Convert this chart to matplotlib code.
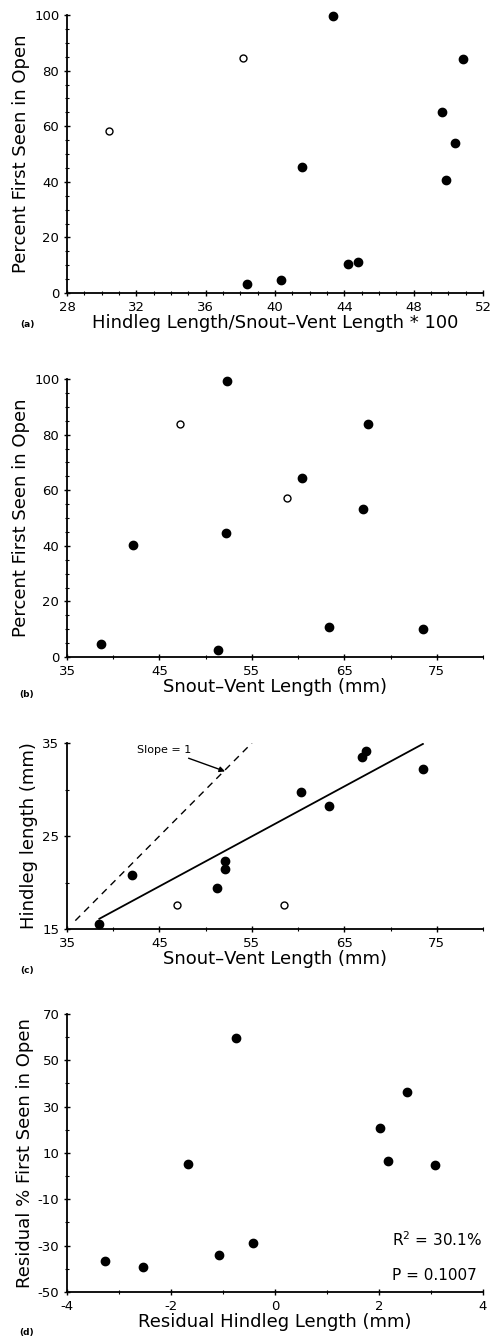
import numpy as np
import matplotlib.pyplot as plt
from matplotlib.ticker import MultipleLocator

# (a) relative hindleg length vs percent seen in open
a_open_x = [30.4, 38.15]
a_open_y = [58.3, 84.4]
a_fill_x = [43.37, 50.87, 49.66, 50.39, 49.89, 41.57, 44.2, 44.81, 38.38, 40.32]
a_fill_y = [99.5, 84.1, 65.1, 53.8, 40.5, 45.3, 10.5, 11.1, 3.1, 4.8]

# (b) SVL vs percent seen in open
b_open_x = [47.17, 58.77]
b_open_y = [83.9, 57.2]
b_fill_x = [52.36, 67.55, 60.46, 67.0, 52.22, 42.09, 38.69, 51.33, 63.36, 73.56]
b_fill_y = [99.4, 83.7, 64.5, 53.2, 44.7, 40.4, 4.7, 2.6, 10.8, 10.1]

# (c) SVL vs hindleg length
c_open_x = [46.89, 58.52]
c_open_y = [17.6, 17.6]
c_fill_x = [38.51, 41.98, 51.26, 52.04, 52.04, 60.31, 63.29, 66.9, 67.37, 73.49]
c_fill_y = [15.54, 20.77, 19.4, 21.4, 22.35, 29.7, 28.2, 33.5, 34.1, 32.2]
fit_x = [38.5, 73.5]
fit_y = [16.1, 34.9]
slope1_x = [35.9, 55.0]

# (d) residuals
d_x = [-0.75, -1.67, 2.53, 2.02, 2.18, 3.08, -3.26, -2.54, -1.07, -0.42]
d_y = [59.8, 5.3, 36.5, 20.8, 6.6, 4.8, -36.5, -39.2, -33.9, -29.0]

plt.rcParams['font.family'] = 'DejaVu Sans'
plt.rcParams['axes.unicode_minus'] = False

fig = plt.figure(figsize=(4.93, 13.4), dpi=100)
W = 493.0
H = 1340.0

def make_ax(top, bottom):
    ax = fig.add_axes([67 / W, 1 - bottom / H, 416 / W, (bottom - top) / H])
    ax.spines['top'].set_visible(False)
    ax.spines['right'].set_visible(False)
    for s in ['left', 'bottom']:
        ax.spines[s].set_linewidth(1.3)
    ax.tick_params(which='major', direction='inout', length=5, width=1, labelsize=9.5, pad=3)
    ax.tick_params(which='minor', direction='inout', length=3, width=0.8)
    return ax

def pts(ax, ox, oy, fx, fy):
    ax.plot(fx, fy, 'o', color='black', ms=6, clip_on=False)
    if ox:
        ax.plot(ox, oy, 'o', mfc='white', mec='black', mew=1, ms=5, clip_on=False)

lab = 13
ylab = 'Percent First Seen in Open'

# (a)
ax = make_ax(15, 293)
pts(ax, a_open_x, a_open_y, a_fill_x, a_fill_y)
ax.set_xlim(28, 52)
ax.set_ylim(0, 100)
ax.xaxis.set_major_locator(MultipleLocator(4))
ax.xaxis.set_minor_locator(MultipleLocator(1))
ax.yaxis.set_major_locator(MultipleLocator(20))
ax.yaxis.set_minor_locator(MultipleLocator(5))
ax.set_xlabel('Hindleg Length/Snout\u2013Vent Length * 100', fontsize=lab, labelpad=0)
ax.set_ylabel(ylab, fontsize=lab, labelpad=3)
fig.text(27 / W, 1 - 325 / H, '(a)', fontsize=6.5, fontweight='bold', va='center', ha='center')

# (b)
ax = make_ax(379, 657)
pts(ax, b_open_x, b_open_y, b_fill_x, b_fill_y)
ax.set_xlim(35, 80)
ax.set_ylim(0, 100)
ax.set_xticks([35, 45, 55, 65, 75])
ax.xaxis.set_minor_locator(MultipleLocator(5))
ax.yaxis.set_major_locator(MultipleLocator(20))
ax.yaxis.set_minor_locator(MultipleLocator(5))
ax.set_xlabel('Snout\u2013Vent Length (mm)', fontsize=lab, labelpad=0)
ax.set_ylabel(ylab, fontsize=lab, labelpad=3)
fig.text(27 / W, 1 - 695 / H, '(b)', fontsize=6.5, fontweight='bold', va='center', ha='center')

# (c)
ax = make_ax(743, 929)
ax.plot(slope1_x, [v - 20 for v in slope1_x], '--', color='black', lw=1, dashes=(5, 4))
ax.plot(fit_x, fit_y, '-', color='black', lw=1.3)
pts(ax, c_open_x, c_open_y, c_fill_x, c_fill_y)
ax.set_xlim(35, 80)
ax.set_ylim(15, 35)
ax.set_xticks([35, 45, 55, 65, 75])
ax.xaxis.set_minor_locator(MultipleLocator(5))
ax.set_yticks([15, 25, 35])
ax.yaxis.set_minor_locator(MultipleLocator(5))
ax.annotate('Slope = 1', xy=(52.1, 31.95), xytext=(42.6, 34.3), fontsize=8,
            va='center', ha='left',
            arrowprops=dict(arrowstyle='-|>', color='black', lw=1, shrinkA=2, shrinkB=0))
ax.set_xlabel('Snout\u2013Vent Length (mm)', fontsize=lab, labelpad=0)
ax.set_ylabel('Hindleg length (mm)', fontsize=lab, labelpad=3)
fig.text(27 / W, 1 - 970 / H, '(c)', fontsize=6.5, fontweight='bold', va='center', ha='center')

# (d)
ax = make_ax(1014, 1292)
ax.plot(d_x, d_y, 'o', color='black', ms=6)
ax.set_xlim(-4, 4)
ax.set_ylim(-50, 70)
ax.xaxis.set_major_locator(MultipleLocator(2))
ax.xaxis.set_minor_locator(MultipleLocator(1))
ax.set_yticks([70, 50, 30, 10, -10, -30, -50])
ax.yaxis.set_minor_locator(MultipleLocator(10))
ax.text(2.25, -27.5, '$\\mathregular{R^2}$ = 30.1%', fontsize=11, va='center', ha='left')
ax.text(2.25, -42.8, 'P = 0.1007', fontsize=11, va='center', ha='left')
ax.set_xlabel('Residual Hindleg Length (mm)', fontsize=lab, labelpad=0)
ax.set_ylabel('Residual % First Seen in Open', fontsize=lab, labelpad=3)
fig.text(27 / W, 1 - 1333 / H, '(d)', fontsize=6.5, fontweight='bold', va='center', ha='center')

fig.savefig('out.png', dpi=100)
